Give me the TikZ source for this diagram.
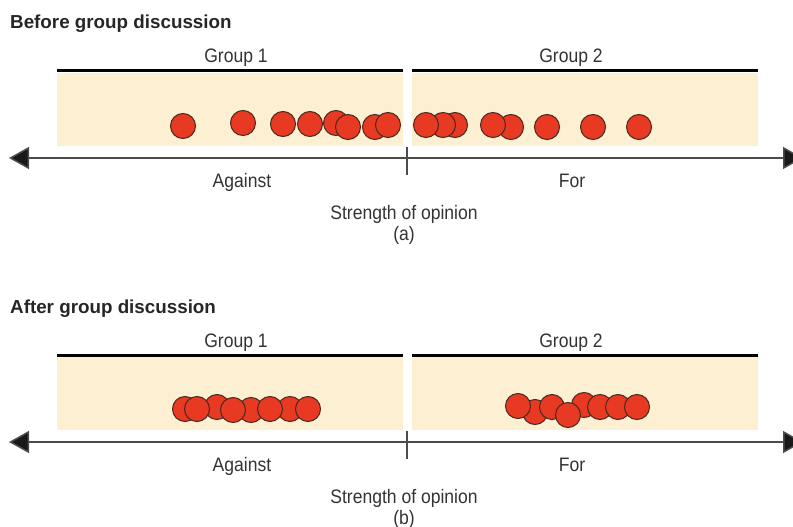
\documentclass[tikz,border=0pt]{standalone}
\usepackage{fontspec}
\setmainfont{Liberation Sans}
\newfontfamily\condfont[FakeStretch=0.9]{Liberation Sans}
\usetikzlibrary{arrows.meta}
\definecolor{panelfill}{HTML}{FDF0D2}
\definecolor{voterred}{HTML}{E83A22}
\definecolor{voteredge}{HTML}{4A2820}
\tikzset{
  voter/.style={circle,fill=voterred,draw=voteredge,line width=1pt,minimum size=25pt,inner sep=0pt},
  lbl/.style={font=\condfont\fontsize{19.5}{22}\selectfont,text=black!80,anchor=base,inner sep=0pt},
  ttl/.style={font=\bfseries\fontsize{18.8}{22}\selectfont,text=black!85,anchor=base west,inner sep=0pt},
  axis/.style={draw=black!70,line width=1.5pt,{Triangle[length=20pt,width=22pt,fill=black!90]}-{Triangle[length=20pt,width=22pt,fill=black!90]}},
}

\begin{document}
\begin{tikzpicture}[x=1pt,y=-1pt]
  \useasboundingbox (0,0) rectangle (793,527);
  \foreach \p/\dy/\when in {a/0/Before, b/284/After}{
    \begin{scope}[yshift=-\dy pt]
      \node[ttl] (title\p) at (10,29) {\when\ group discussion};
      \fill[panelfill] (57,73) rectangle (403,146);
      \fill[panelfill] (412,73) rectangle (758,146);
      \draw[line width=3pt] (57,71) -- (403,71);
      \draw[line width=3pt] (412,71) -- (758,71);
      \node[lbl] (grpone\p) at (236,63) {Group 1};
      \node[lbl] (grptwo\p) at (571,63) {Group 2};
      \coordinate (left\p) at (9,158);
      \coordinate (right\p) at (803,158);
      \draw[axis] (left\p) -- (right\p);
      \draw[black!70,line width=1.2pt] (407,147) -- (407,175);
      \node[lbl] (against\p) at (242,187) {Against};
      \node[lbl] (for\p) at (572,187) {For};
      \node[lbl] (strength\p) at (404,219) {Strength of opinion};
      \node[lbl] (tag\p) at (404,240) {(\p)};
    \end{scope}
  }
  % before discussion
  \foreach \x/\y [count=\i] in {183/126, 243/123, 283/124, 310/124, 336/123, 348/127,
      375/127, 388/125, 455/125, 443/125, 426/125, 511/127, 493/125, 547/127, 593/127, 639/127}
    \node[voter] (a\i) at (\x,\y) {};
  % after discussion
  \foreach \x/\y [count=\i] in {185/409, 217/407, 251/410, 290/409, 197/409, 233/410, 270/409, 308/409,
      535/412, 584/405, 518/406, 552/407, 568/415, 600/407, 618/407, 637/407}
    \node[voter] (b\i) at (\x,\y) {};
\end{tikzpicture}
\end{document}
